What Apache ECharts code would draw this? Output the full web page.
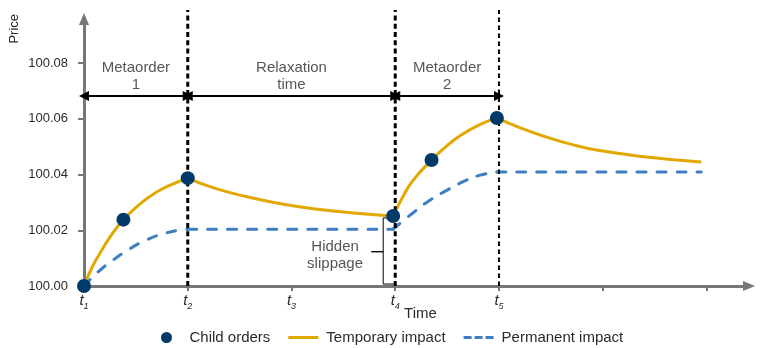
<!DOCTYPE html>
<html><head><meta charset="utf-8">
<script src="https://cdn.jsdelivr.net/npm/echarts@6/dist/echarts.min.js"></script>
<style>html,body{margin:0;padding:0;background:#fff}#c{width:770px;height:348px}</style>
</head><body><div id="c"></div>
<script>
const FONT = "'Liberation Sans', Arial, sans-serif";

// Axis ticks / labels
const xTickValues = [0, 1, 2, 3, 4, 5, 6];
const xLabelValues = [0, 1, 2, 3, 4];
const xLabelSubscripts = ['1', '2', '3', '4', '5'];
const yTickValues = [100.00, 100.02, 100.04, 100.06, 100.08];
const xMax = 6.41;
const yMin = 100.0;
const yMax = 100.0958;

// Child orders (markers)
const childOrders = [[0, 100.000], [0.38, 100.0238], [1.0, 100.0387], [2.98, 100.0251], [3.35, 100.0452], [3.98, 100.0603]];

// Temporary impact, piecewise
const tempSeg1 = [[0, 100.0], [0.08, 100.0069], [0.15, 100.0115], [0.26, 100.0181], [0.38, 100.0238], [0.54, 100.0295], [0.70, 100.0337], [0.85, 100.0365], [1.0, 100.0387]];
const tempSeg2 = [[1.0, 100.0387], [1.25, 100.0352], [1.57, 100.0320], [1.9, 100.0295], [2.21, 100.0277], [2.69, 100.0259], [2.98, 100.0251]];
const tempSeg3 = [[2.98, 100.0251], [3.07, 100.0318], [3.17, 100.0378], [3.35, 100.0452], [3.50, 100.0504], [3.65, 100.0545], [3.82, 100.0580], [3.98, 100.0603]];
const tempSeg4 = [[3.98, 100.0603], [4.2, 100.0568], [4.46, 100.0534], [4.7, 100.0508], [4.94, 100.0488], [5.42, 100.0463], [5.95, 100.0445]];

// Permanent impact, piecewise
const permSeg1 = [[0, 100.0], [0.14, 100.0052], [0.28, 100.0093], [0.44, 100.0133], [0.60, 100.0165], [0.76, 100.0187], [0.92, 100.0201], [1.0, 100.0204]];
const permSeg2 = [[1.0, 100.0204], [2.98, 100.0204]];
const permSeg3 = [[2.98, 100.0204], [3.07, 100.0232], [3.17, 100.0262], [3.33, 100.0307], [3.50, 100.0344], [3.66, 100.0375], [3.82, 100.0398], [3.98, 100.0409]];
const permSeg4 = [[3.98, 100.0409], [5.95, 100.0409]];

// Phase boundaries and annotations
const thickBounds = [1, 3];
const thinBounds = [4];
const boundTop = 100.0990;
const arrowLevel = 100.0682;
const phaseSpans = [[0, 1], [1, 3], [3, 4]];
const phaseNames = ['Metaorder\n1', 'Relaxation\ntime', 'Metaorder\n2'];
const phaseLabelLevel = 100.0751;
const slippageLabel = [[2.42, 100.0111]];
const bracket = [[2.97, 100.0244], [2.884, 100.0244], [2.884, 100.0123], [2.77, 100.0123], [2.884, 100.0123], [2.884, 100.0007], [2.99, 100.0007]];

const GOLD = '#E0A800', BLUE = '#3E7EC1', NAVY = '#003A68', GRAY = '#777777', TXT = '#2b2b2b';

const series = [];
[tempSeg1, tempSeg2, tempSeg3, tempSeg4].forEach(seg => series.push({
  name: 'Temporary impact', type: 'line', data: seg, smooth: 0.5, symbol: 'none',
  lineStyle: { color: GOLD, width: 3 }, itemStyle: { color: GOLD }, z: 3
}));
[permSeg1, permSeg2, permSeg3, permSeg4].forEach(seg => series.push({
  name: 'Permanent impact', type: 'line', data: seg, smooth: 0.5, symbol: 'none',
  lineStyle: { color: BLUE, width: 3, type: [9, 11], cap: 'round' }, itemStyle: { color: BLUE }, z: 3
}));
thickBounds.forEach(b => series.push({
  type: 'line', data: [[b, yMin], [b, boundTop]], symbol: 'none', clip: false, silent: true,
  lineStyle: { color: '#000', width: 3, type: [5, 3.3] }, z: 4
}));
thinBounds.forEach(b => series.push({
  type: 'line', data: [[b, yMin], [b, boundTop]], symbol: 'none', clip: false, silent: true,
  lineStyle: { color: '#000', width: 2, type: [4.5, 3.5] }, z: 4
}));
// phase arrows
series.push({
  type: 'line', data: [], symbol: 'none', silent: true,
  markLine: {
    silent: true, symbol: ['triangle', 'triangle'], symbolSize: [10, 10],
    lineStyle: { color: '#000', width: 2, type: 'solid' }, label: { show: false },
    data: phaseSpans.map(s => [{ coord: [s[0], arrowLevel] }, { coord: [s[1], arrowLevel] }])
  }
});
// phase labels
series.push({
  type: 'scatter', data: phaseSpans.map((s, i) => ({ value: [(s[0] + s[1]) / 2, phaseLabelLevel], name: phaseNames[i] })),
  symbolSize: 0, silent: true, clip: false,
  label: { show: true, position: 'inside', formatter: p => p.name, color: TXT, fontSize: 15, lineHeight: 17, fontFamily: FONT }
});
// hidden slippage label and bracket
series.push({
  type: 'scatter', data: slippageLabel, symbolSize: 0, silent: true,
  label: { show: true, position: 'inside', formatter: 'Hidden\nslippage', color: TXT, fontSize: 15, lineHeight: 17, fontFamily: FONT }
});
series.push({
  type: 'line', data: bracket, symbol: 'none', silent: true,
  lineStyle: { color: '#000', width: 1 }, z: 2
});
series.push({
  name: 'Child orders', type: 'scatter', data: childOrders, symbol: 'circle', symbolSize: 14,
  itemStyle: { color: NAVY, opacity: 1 }, z: 10, clip: false
});

const option = {
  animation: false,
  backgroundColor: '#fff',
  textStyle: { fontFamily: FONT },
  grid: { left: 84, right: 770 - 84 - Math.round(xMax * 103.8), top: 19, bottom: 62, containLabel: false },
  legend: {
    data: [
      { name: 'Child orders', icon: 'circle' },
      { name: 'Temporary impact', icon: 'path://M0,0 L30,0 L30,3 L0,3 Z' },
      { name: 'Permanent impact', icon: 'path://M0,0 L8,0 L8,3 L0,3 Z M11,0 L19,0 L19,3 L11,3 Z M22,0 L30,0 L30,3 L22,3 Z' }
    ],
    left: 161, top: 330, itemWidth: 30, itemHeight: 11, itemGap: 18, padding: 0,
    itemStyle: { borderWidth: 0 },
    textStyle: { fontSize: 15, color: TXT, fontFamily: FONT, padding: [0, 0, 0, 3] }
  },
  xAxis: {
    type: 'value', min: 0, max: xMax,
    name: 'Time', nameLocation: 'middle', nameGap: 20, nameMoveOverlap: false,
    nameTextStyle: { fontSize: 15, color: TXT, fontFamily: FONT, padding: [0, 0, 0, 8] },
    splitLine: { show: false },
    axisLine: { show: true, onZero: false, lineStyle: { color: GRAY, width: 3 }, symbol: ['none', 'triangle'], symbolSize: [10, 12] },
    axisTick: { show: true, length: 5, lineStyle: { color: GRAY, width: 2 }, customValues: xTickValues },
    axisLabel: {
      show: true, margin: 7, customValues: xLabelValues,
      formatter: v => '{t|t}{s|' + xLabelSubscripts[xLabelValues.indexOf(Math.round(v))] + '}',
      rich: {
        t: { fontStyle: 'italic', fontSize: 15, color: TXT, fontFamily: FONT, lineHeight: 18, verticalAlign: 'top' },
        s: { fontStyle: 'italic', fontSize: 9, color: TXT, fontFamily: FONT, lineHeight: 18, verticalAlign: 'bottom' }
      }
    }
  },
  yAxis: {
    type: 'value', min: yMin, max: yMax,
    splitLine: { show: false },
    axisLine: { show: true, onZero: false, lineStyle: { color: GRAY, width: 3 }, symbol: ['none', 'triangle'], symbolSize: [10, 12] },
    axisTick: { show: true, length: 6, lineStyle: { color: GRAY, width: 2 }, customValues: yTickValues },
    axisLabel: { show: true, margin: 16, customValues: yTickValues, formatter: v => v.toFixed(2), fontSize: 13, color: TXT, fontFamily: FONT }
  },
  graphic: [{
    type: 'text', left: 8, top: 14, rotation: Math.PI / 2,
    style: { text: 'Price', fontSize: 13, fill: TXT, font: '13px ' + FONT }
  }],
  series
};
const chart = echarts.init(document.getElementById('c'), null, { renderer: 'canvas' });
chart.setOption(option);
</script></body></html>
